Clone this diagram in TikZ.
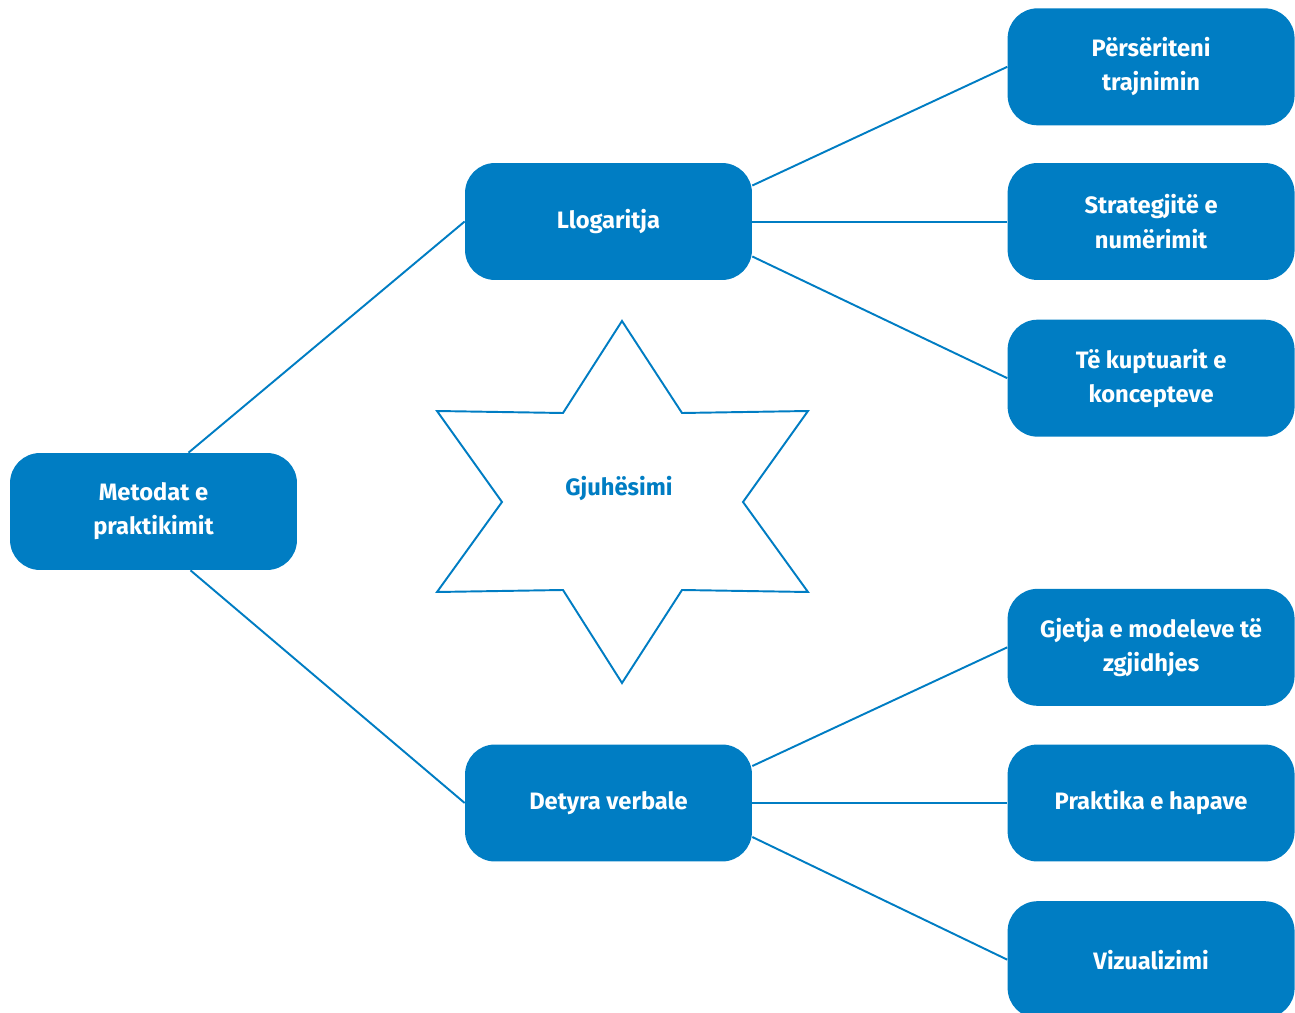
\documentclass[tikz,border=0pt]{standalone}
\usepackage{fontspec}
\setmainfont{Fira Sans}
\usetikzlibrary{positioning}
\definecolor{boxblue}{RGB}{0,125,195}

\begin{document}
\begin{tikzpicture}[x=0.02cm,y=-0.02cm,
  box/.style={rectangle,rounded corners=0.6cm,fill=boxblue,text=white,
    font=\bfseries\fontsize{13.5}{19.5}\selectfont,align=center,
    minimum width=5.74cm,minimum height=2.34cm,inner sep=0pt},
  link/.style={draw=boxblue,line width=1.1pt}]
\useasboundingbox (0,0) rectangle (1295,1013);
\node[box](met) at (153.5,511.5){Metodat e\\praktikimit};
\node[box](llog) at (608.5,221.5){Llogaritja};
\node[box](det) at (608.5,803){Detyra verbale};
\node[box, right = 5.1cm of llog](strat){Strategjitë e\\numërimit};
\node[box, above = 0.74cm of strat](pers){Përsëriteni\\trajnimin};
\node[box, below = 0.78cm of strat](kupt){Të kuptuarit e\\koncepteve};
\node[box, right = 5.1cm of det](prak){Praktika e hapave};
\node[box, above = 0.76cm of prak](gjet){Gjetja e modeleve të\\zgjidhjes};
\node[box, below = 0.78cm of prak](viz){Vizualizimi};
% star
\draw[link, fill=white] (622,321) -- (682,413) -- (808,411) -- (743,502)
  -- (808,592) -- (682,590) -- (622,683) -- (563,590) -- (437,592)
  -- (502,502) -- (437,411) -- (563,413) -- cycle;
\node[text=boxblue, font=\bfseries\fontsize{13.5}{19.5}\selectfont](gjuh) at (619,489){Gjuhësimi};
\path[link] ([xshift=0.7cm]met.north) edge (llog.west);
\path[link] ([xshift=0.74cm]met.south) edge (det.west);
\path[link] ([yshift=0.72cm]llog.east) edge (pers.west);
\path[link] ([yshift=-0.01cm]llog.east) edge ([yshift=-0.01cm]strat.west);
\path[link] ([yshift=-0.7cm]llog.east) edge (kupt.west);
\path[link] ([yshift=0.74cm]det.east) edge (gjet.west);
\path[link] (det.east) edge (prak.west);
\path[link] ([yshift=-0.68cm]det.east) edge (viz.west);
\end{tikzpicture}
\end{document}
